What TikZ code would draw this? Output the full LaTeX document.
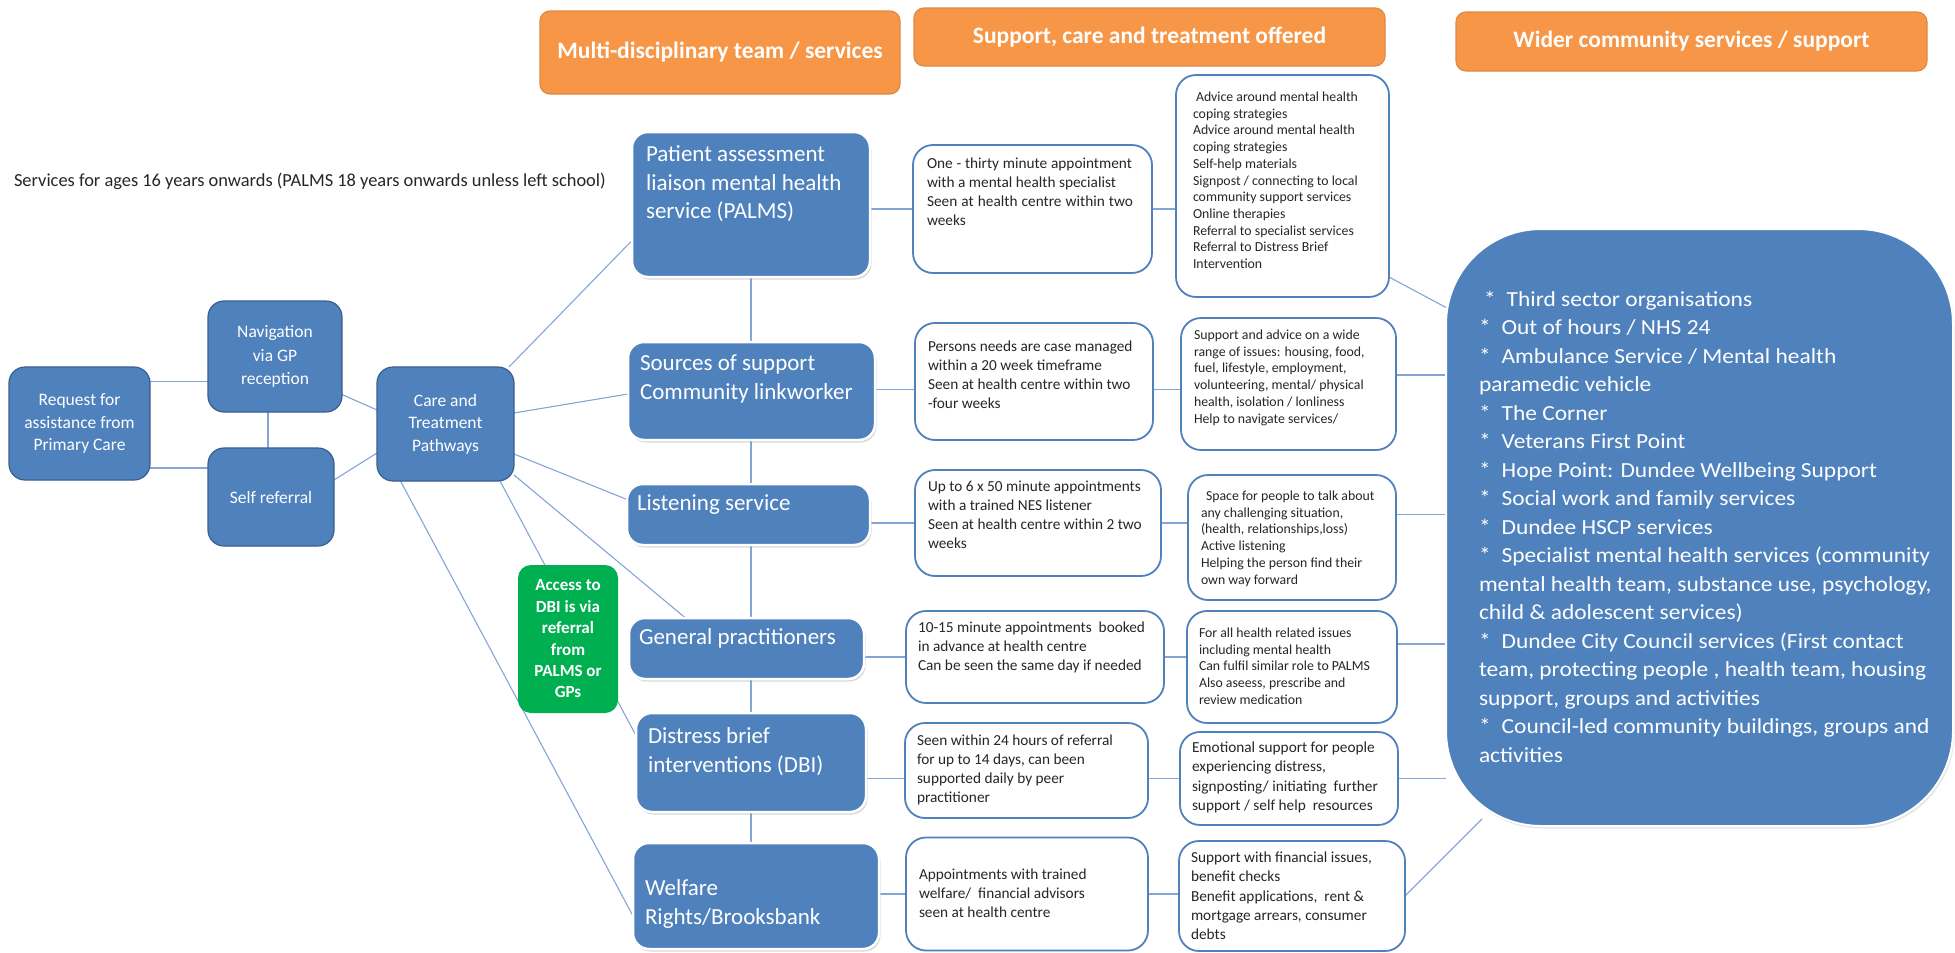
\documentclass[tikz,border=0pt]{standalone}
\usepackage{fontspec}
\setmainfont{Carlito}
\newfontfamily\bigfont[FakeStretch=1.09]{Carlito}
\usetikzlibrary{shadows,calc}
\pgfdeclarelayer{back}
\pgfdeclarelayer{bg}
\pgfsetlayers{back,bg,main}
\definecolor{bblue}{HTML}{4F81BD}
\definecolor{bdark}{HTML}{3A5F8F}
\definecolor{orng}{HTML}{F79646}
\definecolor{orngd}{HTML}{DE8A46}
\definecolor{grn}{HTML}{00B050}
\definecolor{connc}{HTML}{84A6D6}
\definecolor{txtc}{HTML}{262626}
\newcommand\myfs[2]{\fontsize{#1}{#2}\selectfont}
\newcommand\jl[2]{\makebox[#1][s]{#2}}
\begin{document}
\begin{tikzpicture}[x=1pt,y=-1pt,
  every node/.style={inner sep=0pt, outer sep=0pt},
  hdr/.style={rounded corners=10pt, fill=orng, draw=orngd, line width=1.2pt, text=white, font=\bfseries\myfs{23.5}{27}},
  lbox/.style={rounded corners=16pt, fill=bblue, draw=bdark, line width=1.2pt, text=white, align=center, font=\myfs{17.5}{22.5}},
  sbox/.style={rounded corners=16pt, fill=bblue, draw=white, line width=2.5pt, drop shadow={opacity=0.3,shadow xshift=1.5pt,shadow yshift=-2.5pt}},
  wbox/.style={rounded corners=20pt, fill=white, draw=bblue, line width=1.8pt},
  gbox/.style={rounded corners=13pt, fill=grn, text=white, align=center, font=\bfseries\myfs{17}{21.4}},
  bigbox/.style={rounded corners=95pt, fill=bblue, draw=white, line width=2pt, drop shadow={opacity=0.2,shadow xshift=1.5pt,shadow yshift=-2.5pt}},
  btxt/.style={anchor=north west, align=left, text=white, font=\myfs{23}{28.5}},
  mtxt/.style={anchor=north west, align=left, text=txtc, font=\myfs{15.3}{19}},
  rtxt/.style={anchor=north west, align=left, text=txtc, font=\myfs{13.8}{16.7}},
  rbtxt/.style={anchor=north west, align=left, text=txtc, font=\myfs{15.3}{19.3}},
  conn/.style={draw=connc, line width=1.1pt},
]
\begin{pgfonlayer}{back}
\fill[white] (0,0) rectangle (1955,953);
\end{pgfonlayer}
\useasboundingbox (0,0) rectangle (1955,953);

% headers
\node[hdr, minimum width=360pt, minimum height=83pt] (h1) at (720,52.5) {Multi-disciplinary team / services};
\node[hdr, minimum width=471pt, minimum height=58pt] (h2) at (1149.5,37) {Support, care and treatment offered};
\node[hdr, minimum width=471pt, minimum height=59pt] (h3) at (1691.5,41.5) {Wider community services / support};

\node[anchor=west, text=txtc, font=\myfs{18.4}{21}] (svc) at (14,181) {Services for ages 16 years onwards (PALMS 18 years onwards unless left school)};

% left boxes
\node[lbox, minimum width=141pt, minimum height=113pt] (req) at (79.5,423.5) {Request for\\assistance from\\Primary Care};
\node[lbox, minimum width=134pt, minimum height=111pt, font=\myfs{17.5}{23.5}] (nav) at (275,356.5) {Navigation\\via GP\\reception};
\node[lbox, minimum width=126pt, minimum height=98pt] (self) at (271,497) {Self referral};
\node[lbox, minimum width=137pt, minimum height=114pt] (care) at (445.5,424) {Care and\\Treatment\\Pathways};

% service boxes
\node[sbox, minimum width=238pt, minimum height=145pt] (palms) at (751,204.5) {};
\node[sbox, minimum width=247pt, minimum height=98pt] (src) at (751.5,391) {};
\node[sbox, minimum width=243pt, minimum height=61pt] (lst) at (748.5,514.5) {};
\node[sbox, minimum width=235pt, minimum height=61pt] (gp) at (746.5,648.5) {};
\node[sbox, minimum width=230pt, minimum height=99pt] (dbi) at (751,762.5) {};
\node[sbox, minimum width=246pt, minimum height=106pt] (wel) at (756,896) {};

\node[btxt] (palmsT) at (646,146) {Patient assessment\\liaison mental health\\service (PALMS)};
\node[btxt] (srcT) at (640,355) {Sources of support\\Community linkworker};
\node[btxt] (lstT) at (637,495) {Listening service};
\node[btxt] (gpT) at (639,629) {General practitioners};
\node[btxt] (dbiT) at (648,728) {Distress brief\\interventions (DBI)};
\node[btxt] (welT) at (645,880) {Welfare\\Rights/Brooksbank};

% green
\node[gbox, minimum width=100pt, minimum height=148pt] (acc) at (568,639) {Access to\\DBI is via\\referral\\from\\PALMS or\\GPs};

% middle boxes
\node[wbox, minimum width=239pt, minimum height=128pt] (m1) at (1032.5,209) {};
\node[wbox, minimum width=238pt, minimum height=117pt] (m2) at (1034,381.5) {};
\node[wbox, minimum width=246pt, minimum height=106pt] (m3) at (1038,523) {};
\node[wbox, minimum width=258pt, minimum height=92pt] (m4) at (1035,657) {};
\node[wbox, minimum width=243pt, minimum height=95pt] (m5) at (1026.5,770.5) {};
\node[wbox, minimum width=242pt, minimum height=113pt] (m6) at (1027,894) {};

\node[mtxt] (m1T) at (927,158) {\jl{205pt}{One - thirty minute appointment}\\\jl{189pt}{with a mental health specialist}\\\jl{206pt}{Seen at health centre within two}\\weeks};
\node[mtxt] (m2T) at (928,341) {Persons needs are case managed\\within a 20 week timeframe\\Seen at health centre within two\\-four weeks};
\node[mtxt] (m3T) at (928,481) {Up to 6 x 50 minute appointments\\with a trained NES listener\\Seen at health centre within 2 two\\weeks};
\node[mtxt] (m4T) at (918,622) {10-15 minute appointments\ \ booked\\in advance at health centre\\Can be seen the same day if needed};
\node[mtxt] (m5T) at (917,735) {Seen within 24 hours of referral\\for up to 14 days, can been\\supported daily by peer\\practitioner};
\node[mtxt] (m6T) at (919,869) {Appointments with trained\\welfare/\ \ financial advisors\\seen at health centre};

% right boxes
\node[wbox, minimum width=213pt, minimum height=222pt] (r1) at (1282.5,186) {};
\node[wbox, minimum width=215pt, minimum height=132pt] (r2) at (1288.5,384) {};
\node[wbox, minimum width=208pt, minimum height=125pt] (r3) at (1292,537.5) {};
\node[wbox, minimum width=210pt, minimum height=112pt] (r4) at (1292,667) {};
\node[wbox, minimum width=218pt, minimum height=93pt] (r5) at (1289,778.5) {};
\node[wbox, minimum width=226pt, minimum height=110pt] (r6) at (1292,896) {};

\node[rtxt] (r1T) at (1193,92) {\hspace{3pt}Advice around mental health\\coping strategies\\Advice around mental health\\coping strategies\\Self-help materials\\Signpost / connecting to local\\community support services\\Online therapies\\Referral to specialist services\\Referral to Distress Brief\\Intervention};
\node[rtxt] (r2T) at (1194,330) {Support and advice on a wide\\range of issues: housing, food,\\fuel, lifestyle, employment,\\volunteering, mental/ physical\\health, isolation / lonliness\\Help to navigate services/};
\node[rtxt] (r3T) at (1201,491) {\hspace{5pt}Space for people to talk about\\any challenging situation,\\(health, relationships,loss)\\Active listening\\Helping the person find their\\own way forward};
\node[rtxt] (r4T) at (1199,628) {For all health related issues\\including mental health\\Can fulfil similar role to PALMS\\Also aseess, prescribe and\\review medication};
\node[rbtxt] (r5T) at (1192,742) {Emotional support for people\\experiencing distress,\\signposting/ initiating\ \ further\\support / self help\ \ resources};
\node[rbtxt] (r6T) at (1191,852) {Support with financial issues,\\benefit checks\\Benefit applications,\ \ rent \&\\mortgage arrears, consumer\\debts};

% big box
\node[bigbox, minimum width=507pt, minimum height=597pt] (big) at (1699.5,527.5) {};
\node[anchor=north west, align=left, text=white, font=\bigfont\myfs{21.5}{28.5}] (bigT) at (1479,291) {%
\hspace{5pt}*\hspace{11pt}Third sector organisations\\
*\hspace{11pt}Out of hours / NHS 24\\
*\hspace{11pt}Ambulance Service / Mental health\\
paramedic vehicle\\
*\hspace{11pt}The Corner\\
*\hspace{11pt}Veterans First Point\\
*\hspace{11pt}Hope Point: Dundee Wellbeing Support\\
*\hspace{11pt}Social work and family services\\
*\hspace{11pt}Dundee HSCP services\\
*\hspace{11pt}Specialist mental health services (community\\
mental health team, substance use, psychology,\\
child \& adolescent services)\\
*\hspace{11pt}Dundee City Council services (First contact\\
team, protecting people , health team, housing\\
support, groups and activities\\
*\hspace{11pt}Council-led community buildings, groups and\\
activities};

\begin{pgfonlayer}{bg}
% left network
\draw[conn] ([yshift=-25pt]nav.west) -- ([yshift=-25pt]nav.west -| req.east);
\draw[conn] ([yshift=29pt]self.west) -- ([yshift=29pt]self.west -| req.east);
\draw[conn] ([xshift=-7pt]nav.south) -- ([xshift=-7pt]nav.south |- self.north);
\draw[conn] ([yshift=-38pt]nav.east) -- ([yshift=14pt]care.west);
\draw[conn] ([yshift=17pt]self.east) -- ([yshift=-29pt]care.west);
% care to services
\draw[conn] ([xshift=-5pt]care.north east) -- ([yshift=-36pt]palms.west);
\draw[conn] ([yshift=11pt]care.east) -- ([yshift=-3pt]src.west);
\draw[conn] ([yshift=-30pt]care.east) -- ([yshift=15pt]lst.west);
\draw[conn] ([yshift=6pt]care.south east) -- ([xshift=-61pt]gp.north);
\draw[conn] ([xshift=-14pt]care.south east) -- ([yshift=27pt]dbi.west);
\draw[conn] ([xshift=-45pt]care.south) -- ([yshift=-20pt]wel.west);
% vertical chain
\draw[conn] (palms.south) -- (palms.south |- src.north);
\draw[conn] (src.south -| palms.south) -- (lst.north -| palms.south);
\draw[conn] (lst.south -| palms.south) -- (gp.north -| palms.south);
\draw[conn] (gp.south -| palms.south) -- (dbi.north -| palms.south);
\draw[conn] (dbi.south -| palms.south) -- (wel.north -| palms.south);
% service to middle
\draw[conn] (m1.west) -- (m1.west -| palms.east);
\draw[conn] ([yshift=-8pt]m2.west) -- ([yshift=-8pt]m2.west -| src.east);
\draw[conn] (m3.west) -- (m3.west -| lst.east);
\draw[conn] (m4.west) -- (m4.west -| gp.east);
\draw[conn] ([yshift=-8pt]m5.west) -- ([yshift=-8pt]m5.west -| dbi.east);
\draw[conn] (m6.west) -- (m6.west -| wel.east);
% middle to right
\draw[conn] (m1.east) -- (m1.east -| r1.west);
\draw[conn] ([yshift=-8pt]m2.east) -- ([yshift=-8pt]m2.east -| r2.west);
\draw[conn] (m3.east) -- (m3.east -| r3.west);
\draw[conn] (m4.east) -- (m4.east -| r4.west);
\draw[conn] ([yshift=-8pt]m5.east) -- ([yshift=-8pt]m5.east -| r5.west);
\draw[conn] (m6.east) -- (m6.east -| r6.west);
% right to big
\draw[conn] ([yshift=20pt]r1.south east) -- ([yshift=220pt]big.west);
\draw[conn] ([yshift=9pt]r2.east) -- ([yshift=9pt]r2.east -| big.west);
\draw[conn] ([yshift=23pt]r3.east) -- ([yshift=23pt]r3.east -| big.west);
\draw[conn] ([yshift=23pt]r4.east) -- ([yshift=23pt]r4.east -| big.west);
\draw[conn] (r5.east) -- (r5.east -| big.west);
\draw[conn] (r6.east) -- ([xshift=36pt,yshift=7pt]big.south west);
\end{pgfonlayer}
\end{tikzpicture}
\end{document}
